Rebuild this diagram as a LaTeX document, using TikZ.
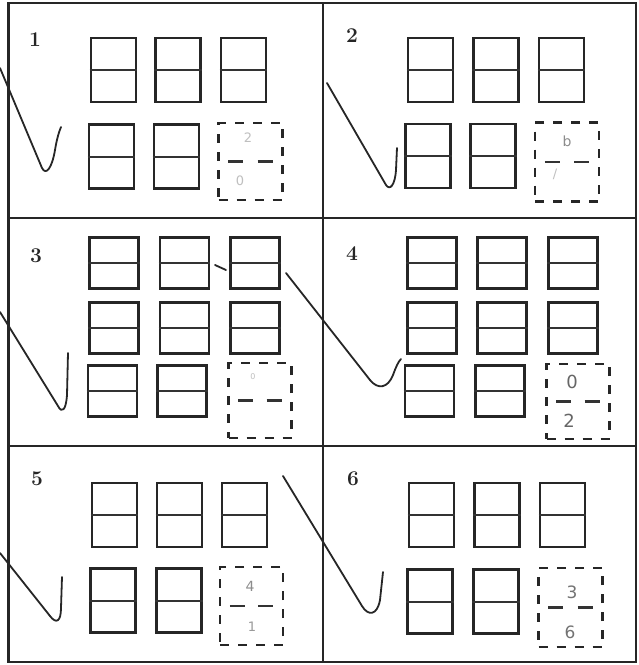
\documentclass[tikz,border=0pt]{standalone}
\usepackage{fontspec}
\newfontfamily\handfont{DejaVu Sans}
\tikzset{
  frame/.style={draw=black!85, line width=2.2pt},
  cellA/.style={draw=black!85, line width=2.8pt, minimum width=45pt, minimum height=64pt, inner sep=0pt},
  cellB/.style={draw=black!85, line width=2.8pt, minimum width=49pt, minimum height=51pt, inner sep=0pt},
  ansbox/.style={draw=black!85, line width=2.4pt, dash pattern=on 9pt off 9pt, inner sep=0pt},
  midline/.style={draw=black!80, line width=2pt},
  ansmid/.style={draw=black!80, line width=2.2pt},
  tick/.style={draw=black!85, line width=1.8pt, line cap=round, line join=round},
  num/.style={font=\fontsize{21}{23}\selectfont\bfseries, text=black!85},
  hand/.style={font=\handfont\fontsize{14}{15}\selectfont, text=black!45},
  faint/.style={font=\handfont\fontsize{13}{14}\selectfont, text=black!25}
}
\newcommand{\cellA}[3]{\node[cellA] (#1) at (#2,#3) {}; \draw[midline] (#1.west) -- (#1.east);}
\newcommand{\cellB}[3]{\node[cellB] (#1) at (#2,#3) {}; \draw[midline] (#1.west) -- (#1.east);}
\newcommand{\ansbox}[5]{\node[ansbox, minimum width=#4pt, minimum height=#5pt] (#1) at (#2,#3) {};
  \draw[ansmid] ([xshift=11pt]#1.west) -- ([xshift=26pt]#1.west);
  \draw[ansmid] ([xshift=-26pt]#1.east) -- ([xshift=-11pt]#1.east);}
\begin{document}
\begin{tikzpicture}[x=1pt,y=-1pt]
\useasboundingbox (0,0) rectangle (639,665);
\fill[white] (0,0) rectangle (639,665);
% frame
\coordinate (tl) at (8,3); \coordinate (tr) at (636,3);
\coordinate (bl) at (8,662); \coordinate (br) at (636,662);
\coordinate (vt) at (323,3); \coordinate (vb) at (323,662);
\coordinate (h1l) at (8,218); \coordinate (h1r) at (636,218);
\coordinate (h2l) at (8,446); \coordinate (h2r) at (636,446);
\draw[frame] (tl) -- (tr) -- (br) -- (bl) -- cycle;
\draw[frame, line width=3pt] (tl) -- (bl);
\draw[frame] (vt) -- (vb);
\draw[frame] (h1l) -- (h1r);
\draw[frame] (h2l) -- (h2r);
% labels
\node[num] (n1) at (35,40) {1};
\node[num] (n2) at (352,36) {2};
\node[num] (n3) at (36,256) {3};
\node[num] (n4) at (352,254) {4};
\node[num] (n5) at (37,479) {5};
\node[num] (n6) at (353,479) {6};
% panel 1
\cellA{a11}{113.5}{70} \cellA{a12}{178}{70} \cellA{a13}{243.5}{70}
\cellA{a21}{111.5}{156.5} \cellA{a22}{176.5}{156.5}
\ansbox{a23}{250.5}{161.5}{64}{77}
\node[faint] (d1a) at (248,138) {2};
\node[faint] (d1b) at (240,181) {0};
% panel 2
\cellA{b11}{430.5}{70} \cellA{b12}{496}{70} \cellA{b13}{561.5}{70}
\cellA{b21}{428}{156} \cellA{b22}{493}{156}
\ansbox{b23}{567}{162}{64}{79}
\node[hand] (d2a) at (567,141) {b};
\node[faint] (d2b) at (555,174) {/};
% panel 3
\cellB{c11}{114}{263} \cellB{c12}{184.5}{263} \cellB{c13}{255}{263}
\cellB{c21}{114}{328} \cellB{c22}{184.5}{328} \cellB{c23}{255}{328}
\cellB{c31}{112.5}{391} \cellB{c32}{182}{391}
\ansbox{c33}{260}{400.5}{63}{75}
\node[faint, font=\handfont\fontsize{8}{9}\selectfont] (d3a) at (253,377) {0};
% panel 4
\cellB{e11}{432}{263} \cellB{e12}{502}{263} \cellB{e13}{573}{263}
\cellB{e21}{432}{328} \cellB{e22}{502}{328} \cellB{e23}{573}{328}
\cellB{e31}{429.5}{391} \cellB{e32}{500}{391}
\ansbox{e33}{578}{401.5}{63}{75}
\node[hand, text=black!60, font=\handfont\fontsize{18}{19}\selectfont] (d4a) at (572,382) {0};
\node[hand, text=black!60, font=\handfont\fontsize{18}{19}\selectfont] (d4b) at (569,421) {2};
% panel 5
\cellA{f11}{114.5}{515} \cellA{f12}{179.5}{515} \cellA{f13}{244.5}{515}
\cellA{f21}{113}{600.5} \cellA{f22}{179}{600.5}
\ansbox{f23}{251.5}{606}{63}{78}
\node[hand] (d5a) at (250,586) {4};
\node[faint, text=black!40] (d5b) at (252,627) {1};
% panel 6
\cellA{g11}{431.5}{515} \cellA{g12}{497}{515} \cellA{g13}{562.5}{515}
\cellA{g21}{430}{601.5} \cellA{g22}{496}{601.5}
\ansbox{g23}{570.5}{607.5}{64}{79}
\node[hand, text=black!55, font=\handfont\fontsize{17}{18}\selectfont] (d6a) at (572,592) {3};
\node[hand, text=black!55, font=\handfont\fontsize{17}{18}\selectfont] (d6b) at (570,632) {6};
% check marks
\draw[tick] (0,68) -- (42,168) .. controls (46,176) and (52,168) .. (55,150) .. controls (57,138) and (59,132) .. (61,127);
\draw[tick] (327,83) -- (386,185) .. controls (390,191) and (395,185) .. (396,170) -- (397,148);
\draw[tick] (0,312) -- (58,406) .. controls (62,414) and (66,410) .. (67,395) -- (68,353);
\draw[tick] (286,273) -- (370,380) .. controls (378,390) and (388,388) .. (393,375) .. controls (396,367) and (398,362) .. (401,359);
\draw[tick] (0,553) -- (50,616) .. controls (56,624) and (61,622) .. (61,608) -- (62,577);
\draw[tick] (283,476) -- (362,606) .. controls (368,616) and (377,616) .. (380,600) -- (383,572);
\draw[tick] (215,265) -- (226,270);
\end{tikzpicture}
\end{document}
